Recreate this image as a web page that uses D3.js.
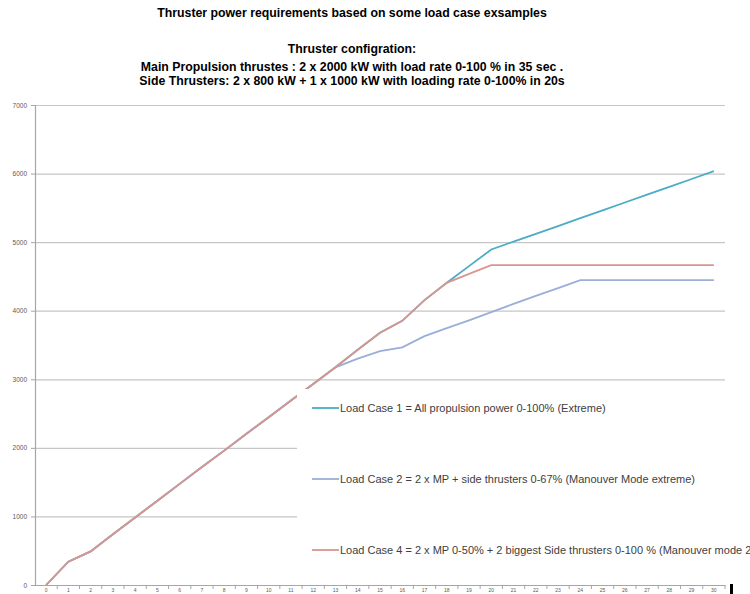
<!DOCTYPE html>
<html>
<head>
<meta charset="utf-8">
<script src="https://cdn.jsdelivr.net/npm/d3@7"></script>
<style>
  body { margin: 0; background: #fff; }
  svg { display: block; font-family: "Liberation Sans", Arial, sans-serif; }
</style>
</head>
<body>
<div id="chart"></div>
<script>
// seconds 0..30
var seconds = [0,1,2,3,4,5,6,7,8,9,10,11,12,13,14,15,16,17,18,19,20,21,22,23,24,25,26,27,28,29,30];

var case1 = [0,340,490,740,985,1230,1475,1720,1960,2205,2445,2690,2930,3175,3430,3678,3853,4154,4407,4650,4893,5007,5121,5235,5350,5464,5578,5692,5807,5921,6035];
var case2 = [0,340,490,740,985,1230,1475,1720,1960,2205,2445,2690,2930,3175,3300,3411,3465,3630,3745,3860,3980,4100,4215,4330,4446,4446,4446,4446,4446,4446,4446];
var case4 = [0,340,490,740,985,1230,1475,1720,1960,2205,2445,2690,2930,3175,3430,3678,3853,4154,4407,4536,4665,4665,4665,4665,4665,4665,4665,4665,4665,4665,4665];

var yTicks = [0,1000,2000,3000,4000,5000,6000,7000];

var legendNames = [
  "Load Case 1 = All propulsion power 0-100% (Extreme)",
  "Load Case 2 = 2 x MP + side thrusters 0-67% (Manouver Mode extreme)",
  "Load Case 4 = 2 x MP 0-50% + 2 biggest Side thrusters 0-100 % (Manouver mode 2)"
];
var colors = ["#4bacc6", "#9aaed8", "#d9958f"];

var titleLines = [
  "Thruster power requirements  based on some load case exsamples",
  "Thruster configration:",
  "Main Propulsion thrustes : 2 x 2000 kW with load  rate 0-100 % in 35 sec .",
  "Side Thrusters: 2 x 800 kW + 1 x 1000 kW with loading rate 0-100%  in 20s"
];

function init() {
    var w = 750, h = 594;
    var plotLeft = 35, plotRight = 725, plotTop = 105, plotBottom = 585;

    var svg = d3.select("#chart").append("svg")
        .attr("width", w)
        .attr("height", h);

    var xScale = d3.scaleBand()
        .domain(seconds)
        .range([plotLeft, plotRight]);

    var yScale = d3.scaleLinear()
        .domain([0, 7000])
        .range([plotBottom, plotTop]);

    // titles
    var titleY = [17, 53, 71, 85];
    svg.selectAll("text.title")
        .data(titleLines)
        .enter()
        .append("text")
        .attr("class", "title")
        .attr("x", 352)
        .attr("y", function(d, i){ return titleY[i]; })
        .attr("text-anchor", "middle")
        .style("font-size", "12.3px")
        .style("font-weight", "bold")
        .style("fill", "#000")
        .text(function(d){ return d; });

    // gridlines
    svg.append("g")
        .attr("transform", "translate(" + plotLeft + ",0)")
        .call(d3.axisLeft(yScale).tickValues(yTicks).tickSize(-(plotRight - plotLeft)).tickFormat(""))
        .call(function(g){
            g.select(".domain").remove();
            g.selectAll("line").attr("stroke", "#c6c6c6").attr("stroke-width", 1.2);
        });

    // y axis
    svg.append("g")
        .attr("transform", "translate(" + plotLeft + ",0)")
        .call(d3.axisLeft(yScale).tickValues(yTicks).tickSize(4).tickPadding(4).tickFormat(d3.format("d")))
        .call(function(g){
            g.select(".domain").attr("stroke", "#a6a6a6").attr("stroke-width", 1.2);
            g.selectAll("line").attr("stroke", "#a6a6a6");
            g.selectAll("text").style("font-size", "6.5px").style("fill", "#595959");
        });

    // x axis
    var xAxis = svg.append("g")
        .attr("transform", "translate(0," + plotBottom + ")")
        .call(d3.axisBottom(xScale).tickSize(0).tickPadding(3))
        .call(function(g){
            g.select(".domain").attr("stroke", "#a6a6a6").attr("stroke-width", 1.2);
            g.selectAll("text").style("font-size", "5px").style("fill", "#595959");
        });
    // tick marks between categories
    xAxis.selectAll("line.sep")
        .data(seconds)
        .enter()
        .append("line")
        .attr("class", "sep")
        .attr("x1", function(d){ return xScale(d) + xScale.bandwidth(); })
        .attr("x2", function(d){ return xScale(d) + xScale.bandwidth(); })
        .attr("y1", 0)
        .attr("y2", 4)
        .attr("stroke", "#a6a6a6");

    // lines
    var line = d3.line()
        .x(function(d, i){ return xScale(seconds[i]) + xScale.bandwidth() / 2; })
        .y(function(d){ return yScale(d); });

    svg.selectAll("path.series")
        .data([case1, case2, case4])
        .enter()
        .append("path")
        .attr("class", "series")
        .attr("d", line)
        .attr("fill", "none")
        .attr("stroke", function(d, i){ return colors[i]; })
        .attr("stroke-width", 1.8);

    // legend box
    svg.append("rect")
        .attr("x", 297)
        .attr("y", 389)
        .attr("width", 460)
        .attr("height", 180)
        .attr("fill", "#fff");

    var legendY = [408, 479, 550];
    var legend = svg.selectAll("g.legend")
        .data(legendNames)
        .enter()
        .append("g")
        .attr("class", "legend")
        .attr("transform", function(d, i){ return "translate(312," + legendY[i] + ")"; });

    legend.append("line")
        .attr("x1", 0)
        .attr("x2", 27)
        .attr("stroke", function(d, i){ return colors[i]; })
        .attr("stroke-width", 1.8);

    legend.append("text")
        .attr("x", 28)
        .attr("y", 4)
        .style("font-size", "11px")
        .style("fill", "#404040")
        .text(function(d){ return d; });

    // cursor mark at bottom right
    svg.append("rect")
        .attr("x", 730)
        .attr("y", 584)
        .attr("width", 3)
        .attr("height", 10)
        .attr("fill", "#000");
}

window.onload = init;
</script>
</body>
</html>
